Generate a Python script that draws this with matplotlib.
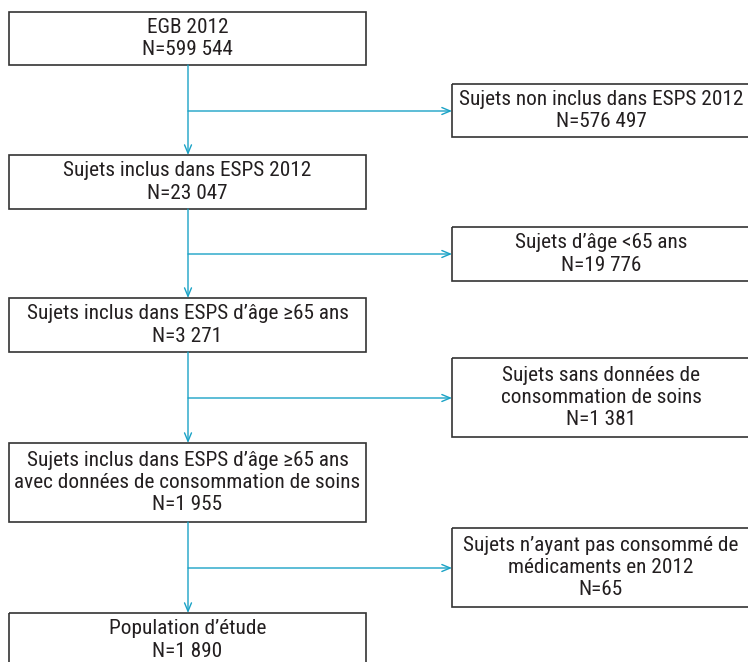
import matplotlib
matplotlib.use("Agg")
import matplotlib.pyplot as plt
from matplotlib.patches import Rectangle
from matplotlib import font_manager

# ---- data ----
main_labels = ["EGB 2012", "Sujets inclus dans ESPS 2012", "Sujets inclus dans ESPS d\u2019âge \u226565 ans",
               "Sujets inclus dans ESPS d\u2019âge \u226565 ans\navec données de consommation de soins",
               "Population d\u2019étude"]
main_counts = ["599 544", "23 047", "3 271", "1 955", "1 890"]
excl_labels = ["Sujets non inclus dans ESPS 2012", "Sujets d\u2019âge <65 ans",
               "Sujets sans données de\nconsommation de soins",
               "Sujets n\u2019ayant pas consommé de\nmédicaments en 2012"]
excl_counts = ["576 497", "19 776", "1 381", "65"]

# ---- layout (pixel coordinates) ----
W, H = 748, 662
main_boxes = [(9, 12, 366, 65), (9, 155, 366, 209), (9, 298, 366, 352),
              (9, 443, 366, 522), (9, 613, 366, 680)]
excl_boxes = [(452, 84, 760, 137), (452, 227, 760, 281), (452, 358, 760, 437), (452, 528, 760, 607)]
branch_y = [111, 254, 398, 568]
xc = 188
teal = "#1ba3c6"
edge = "#333333"

# pick a condensed font if present
entries = font_manager.fontManager.ttflist
fam, stretch = "Liberation Sans", "normal"
for name in ["Liberation Sans Narrow", "Roboto Condensed", "Open Sans Condensed", "Noto Sans Condensed"]:
    if any(f.name == name for f in entries):
        fam = name
        break
else:
    for base in ["DejaVu Sans", "Noto Sans", "Roboto", "Open Sans"]:
        if any(f.name == base and str(f.stretch) in ("condensed", "semi-condensed", "75", "87.5")
               for f in entries):
            fam, stretch = base, "condensed"
            break
family = [fam, "DejaVu Sans"]

fig = plt.figure(figsize=(W / 100, H / 100), dpi=100)
ax = fig.add_axes([0, 0, 1, 1])
ax.set_xlim(0, W)
ax.set_ylim(H, 0)
ax.axis("off")

# size the font so the reference line widths match
renderer = fig.canvas.get_renderer()
probe = ax.text(0, 0, excl_labels[0], fontsize=10, family=family, fontstretch=stretch)
wpx = probe.get_window_extent(renderer).width
probe.remove()
fs = 10 * 283 / wpx
p1 = ax.text(0, 0, "A", fontsize=fs, family=family, fontstretch=stretch, linespacing=1.0)
p2 = ax.text(0, 0, "A\nA", fontsize=fs, family=family, fontstretch=stretch, linespacing=1.0)
gap = p2.get_window_extent(renderer).height - p1.get_window_extent(renderer).height
p1.remove(); p2.remove()
ls = 23.0 / gap

for b, l, c in zip(main_boxes, main_labels, main_counts):
    x0, y0, x1, y1 = b
    ax.add_patch(Rectangle((x0, y0), x1 - x0, y1 - y0, fill=False, edgecolor=edge, lw=1.2))
    cy = (y0 + y1) / 2 if y1 <= H else y0 + 27
    ax.text((x0 + x1) / 2, cy, l + "\nN=" + c, ha="center", va="center", fontsize=fs,
            family=family, fontstretch=stretch, color="#231f20", linespacing=ls)

for b, l, c in zip(excl_boxes, excl_labels, excl_counts):
    x0, y0, x1, y1 = b
    ax.add_patch(Rectangle((x0, y0), x1 - x0, y1 - y0, fill=False, edgecolor=edge, lw=1.2))
    ax.text(601, (y0 + y1) / 2, l + "\nN=" + c, ha="center", va="center", fontsize=fs,
            family=family, fontstretch=stretch, color="#231f20", linespacing=ls)

arrow = dict(arrowstyle="->,head_length=0.6,head_width=0.25", color=teal, lw=1.0,
             shrinkA=0, shrinkB=0)
for i in range(4):
    ax.annotate("", xy=(xc, main_boxes[i + 1][1]), xytext=(xc, main_boxes[i][3]), arrowprops=arrow)
    ax.annotate("", xy=(excl_boxes[i][0], branch_y[i]), xytext=(xc, branch_y[i]), arrowprops=arrow)

fig.savefig("out.png", dpi=100)
